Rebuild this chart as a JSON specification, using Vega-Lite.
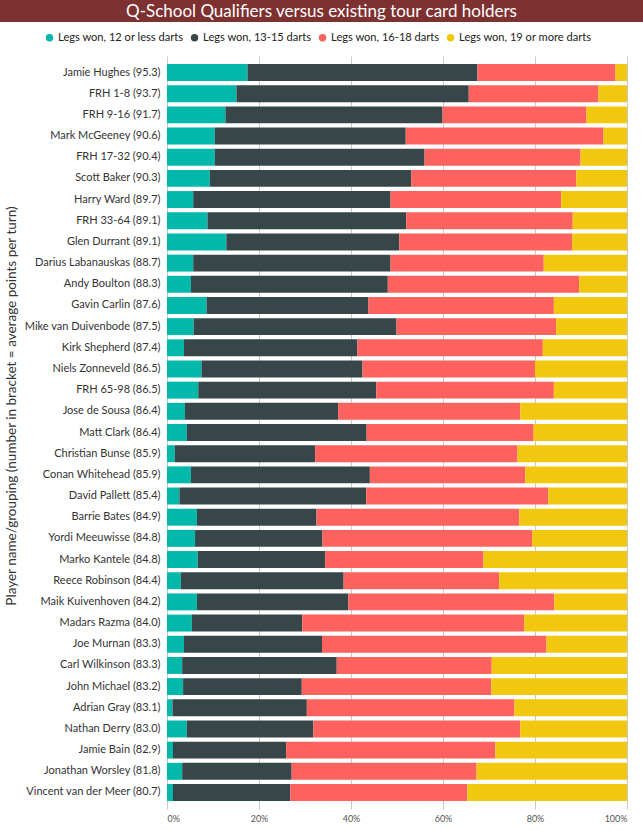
{
  "$schema": "https://vega.github.io/schema/vega-lite/v6.json",
  "padding": 0,
  "autosize": {"type": "pad"},
  "spacing": 10,
  "config": {
    "font": "Lato",
    "view": {"stroke": null}
  },
  "resolve": {"legend": {"color": "independent"}},
  "vconcat": [
    {
      "width": 643,
      "height": 22,
      "view": {"fill": "#7E3131", "stroke": null},
      "data": {"values": [{"t": "Q-School Qualifiers versus existing tour card holders"}]},
      "mark": {"type": "text", "color": "#FFFFFF", "fontSize": 17, "baseline": "middle", "align": "center", "dy": 1},
      "encoding": {"text": {"field": "t", "type": "nominal"}}
    },
    {
      "bounds": "flush",
      "spacing": 143,
      "resolve": {"legend": {"color": "independent"}},
      "hconcat": [
        {
          "width": 24,
          "height": 700,
          "data": {"values": [{"t": "Player name/grouping (number in bracket = average points per turn)"}]},
          "mark": {"type": "text", "angle": 270, "fontSize": 13.5, "color": "#333333", "baseline": "middle", "align": "center"},
          "encoding": {"text": {"field": "t", "type": "nominal"}}
        },
        {
          "width": 460,
          "height": 753,
          "data": {
            "values": [
              {"player": "Jamie Hughes (95.3)", "a": 17.5, "b": 50.0, "c": 30.0, "d": 2.5},
              {"player": "FRH 1-8 (93.7)", "a": 15.1, "b": 50.5, "c": 28.2, "d": 6.2},
              {"player": "FRH 9-16 (91.7)", "a": 12.7, "b": 47.2, "c": 31.3, "d": 8.8},
              {"player": "Mark McGeeney (90.6)", "a": 10.4, "b": 41.5, "c": 43.0, "d": 5.1},
              {"player": "FRH 17-32 (90.4)", "a": 10.4, "b": 45.6, "c": 33.9, "d": 10.1},
              {"player": "Scott Baker (90.3)", "a": 9.3, "b": 43.8, "c": 35.9, "d": 11.0},
              {"player": "Harry Ward (89.7)", "a": 5.7, "b": 42.9, "c": 37.1, "d": 14.3},
              {"player": "FRH 33-64 (89.1)", "a": 8.8, "b": 43.2, "c": 36.2, "d": 11.8},
              {"player": "Glen Durrant (89.1)", "a": 12.9, "b": 37.6, "c": 37.6, "d": 11.9},
              {"player": "Darius Labanauskas (88.7)", "a": 5.7, "b": 42.9, "c": 33.3, "d": 18.1},
              {"player": "Andy Boulton (88.3)", "a": 5.2, "b": 42.8, "c": 41.6, "d": 10.4},
              {"player": "Gavin Carlin (87.6)", "a": 8.6, "b": 35.2, "c": 40.3, "d": 15.9},
              {"player": "Mike van Duivenbode (87.5)", "a": 5.8, "b": 44.1, "c": 34.7, "d": 15.4},
              {"player": "Kirk Shepherd (87.4)", "a": 3.7, "b": 37.7, "c": 40.3, "d": 18.3},
              {"player": "Niels Zonneveld (86.5)", "a": 7.5, "b": 35.0, "c": 37.5, "d": 20.0},
              {"player": "FRH 65-98 (86.5)", "a": 6.8, "b": 38.7, "c": 38.6, "d": 15.9},
              {"player": "Jose de Sousa (86.4)", "a": 3.9, "b": 33.3, "c": 39.6, "d": 23.2},
              {"player": "Matt Clark (86.4)", "a": 4.3, "b": 39.1, "c": 36.3, "d": 20.3},
              {"player": "Christian Bunse (85.9)", "a": 1.7, "b": 30.5, "c": 44.0, "d": 23.8},
              {"player": "Conan Whitehead (85.9)", "a": 5.2, "b": 38.9, "c": 33.8, "d": 22.1},
              {"player": "David Pallett (85.4)", "a": 2.7, "b": 40.6, "c": 39.6, "d": 17.1},
              {"player": "Barrie Bates (84.9)", "a": 6.5, "b": 26.0, "c": 44.1, "d": 23.4},
              {"player": "Yordi Meeuwisse (84.8)", "a": 6.1, "b": 27.7, "c": 45.6, "d": 20.6},
              {"player": "Marko Kantele (84.8)", "a": 6.7, "b": 27.7, "c": 34.4, "d": 31.2},
              {"player": "Reece Robinson (84.4)", "a": 3.0, "b": 35.4, "c": 33.8, "d": 27.8},
              {"player": "Maik Kuivenhoven (84.2)", "a": 6.5, "b": 32.9, "c": 44.8, "d": 15.8},
              {"player": "Madars Razma (84.0)", "a": 5.4, "b": 24.0, "c": 48.3, "d": 22.3},
              {"player": "Joe Murnan (83.3)", "a": 3.7, "b": 30.0, "c": 48.8, "d": 17.5},
              {"player": "Carl Wilkinson (83.3)", "a": 3.3, "b": 33.6, "c": 33.7, "d": 29.4},
              {"player": "John Michael (83.2)", "a": 3.5, "b": 25.8, "c": 41.2, "d": 29.5},
              {"player": "Adrian Gray (83.1)", "a": 1.2, "b": 29.2, "c": 45.1, "d": 24.5},
              {"player": "Nathan Derry (83.0)", "a": 4.3, "b": 27.5, "c": 45.0, "d": 23.2},
              {"player": "Jamie Bain (82.9)", "a": 1.3, "b": 24.6, "c": 45.5, "d": 28.6},
              {"player": "Jonathan Worsley (81.8)", "a": 3.3, "b": 23.8, "c": 40.2, "d": 32.7},
              {"player": "Vincent van der Meer (80.7)", "a": 1.3, "b": 25.5, "c": 38.5, "d": 34.7}
            ]
          },
          "transform": [
            {"fold": ["a", "b", "c", "d"], "as": ["key", "value"]},
            {"lookup": "key", "from": {"data": {"values": [
              {"key": "a", "band": "Legs won, 12 or less darts"},
              {"key": "b", "band": "Legs won, 13-15 darts"},
              {"key": "c", "band": "Legs won, 16-18 darts"},
              {"key": "d", "band": "Legs won, 19 or more darts"}
            ]}, "key": "key", "fields": ["band"]}}
          ],
          "mark": {"type": "bar"},
          "encoding": {
            "y": {
              "field": "player",
              "type": "nominal",
              "sort": null,
              "scale": {"paddingInner": 0.2, "paddingOuter": 0.38},
              "axis": {
                "title": null,
                "labelFontSize": 11,
                "labelColor": "#333333",
                "labelPadding": 7,
                "ticks": false,
                "domain": false
              }
            },
            "x": {
              "field": "value",
              "type": "quantitative",
              "stack": "normalize",
              "scale": {"domain": [0, 1], "nice": false},
              "axis": {
                "title": null,
                "values": [0, 0.2, 0.4, 0.6, 0.8, 1],
                "format": ".0%",
                "labelFontSize": 9,
                "labelColor": "#555555",
                "labelPadding": 5,
                "ticks": false,
                "domain": false,
                "grid": true,
                "gridColor": "#C8C8C8",
                "gridWidth": 1
              }
            },
            "color": {
              "field": "band",
              "type": "nominal",
              "scale": {
                "domain": ["Legs won, 12 or less darts", "Legs won, 13-15 darts", "Legs won, 16-18 darts", "Legs won, 19 or more darts"],
                "range": ["#01B8AA", "#374649", "#FD625E", "#F2C80F"]
              },
              "legend": {
                "orient": "none",
                "legendX": -123,
                "legendY": -24,
                "direction": "horizontal",
                "title": null,
                "symbolType": "circle",
                "symbolSize": 55,
                "labelFontSize": 11.1,
                "labelColor": "#222222",
                "labelOffset": 3,
                "columnPadding": 5
              }
            },
            "order": {"field": "key", "type": "nominal", "sort": "ascending"}
          }
        }
      ]
    }
  ]
}
